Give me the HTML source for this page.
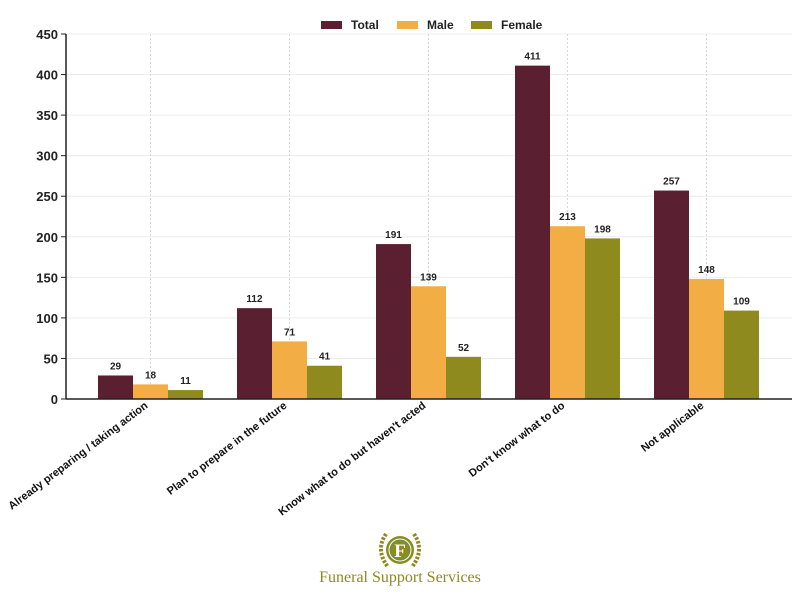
<!DOCTYPE html>
<html><head><meta charset="utf-8"><style>
body{margin:0;background:#fff}
svg{display:block;font-family:"Liberation Sans",sans-serif}
</style></head><body>
<svg width="800" height="595" xmlns="http://www.w3.org/2000/svg">
<g id="grid"></g>
<g id="bars"></g>
<g font-size="12" font-weight="bold" fill="#222">
<rect x="321" y="21" width="21" height="8" fill="#5a1f31"/><text x="351" y="29">Total</text>
<rect x="397" y="21" width="21" height="8" fill="#f2ae45"/><text x="427" y="29">Male</text>
<rect x="471" y="21" width="21" height="8" fill="#8e8a1e"/><text x="501" y="29">Female</text>
</g>
<g transform="translate(400,550)">
<path d="M-14,-16 Q-25,0 -12,17 M14,-16 Q25,0 12,17" stroke="#8e8a1e" stroke-width="4" fill="none" stroke-dasharray="2.5 1.5"/>
<circle r="14" fill="#8e8a1e"/><circle r="11.5" fill="#fff"/><circle r="10.5" fill="#4a9a5a"/><circle r="9.5" fill="#8e8a1e"/>
<text y="7" text-anchor="middle" font-family="Liberation Serif,serif" font-size="19" font-weight="bold" fill="#fff">F</text>
</g>
<text x="400" y="582" text-anchor="middle" font-family="Liberation Serif,serif" font-size="16" fill="#8e8a1e">Funeral Support Services</text>
</svg>
<script>
const NS="http://www.w3.org/2000/svg";
function el(p,t,a,txt){const e=document.createElementNS(NS,t);for(const k in a)e.setAttribute(k,a[k]);if(txt!=null)e.textContent=txt;p.appendChild(e);return e;}
const g=document.getElementById('grid'),b=document.getElementById('bars');
const y0=399,s=365/450;
for(let v=0;v<=450;v+=50){const y=y0-v*s;
 if(v>0)el(g,'line',{x1:66,x2:792,y1:y,y2:y,stroke:'#ececec','stroke-width':1});
 el(g,'line',{x1:61,x2:66,y1:y,y2:y,stroke:'#222'});
 el(g,'text',{x:58,y:y+5,'text-anchor':'end','font-size':13,'font-weight':'bold',fill:'#222'},v);}
const cats=["Already preparing / taking action","Plan to prepare in the future","Know what to do but haven't acted","Don't know what to do","Not applicable"];
const data=[[29,18,11],[112,71,41],[191,139,52],[411,213,198],[257,148,109]];
const cols=["#5a1f31","#f2ae45","#8e8a1e"];
cats.forEach((c,i)=>{const cx=150.5+139*i;
 el(g,'line',{x1:cx,x2:cx,y1:34,y2:399,stroke:'#d8d8d8','stroke-dasharray':'2 2'});
 data[i].forEach((v,j)=>{const x=cx-52.5+35*j,h=v*s;
  el(b,'rect',{x:x,y:y0-h,width:35,height:h,fill:cols[j]});
  el(b,'text',{x:x+17.5,y:y0-h-6,'text-anchor':'middle','font-size':10,'font-weight':'bold',fill:'#222'},v);});
 el(b,'text',{x:0,y:0,transform:`translate(${cx-2},${407}) rotate(-37)`,'text-anchor':'end','font-size':11,'font-weight':'bold',fill:'#111'},c);
});
el(b,'line',{x1:66,x2:66,y1:34,y2:399,stroke:'#222','stroke-width':1.5});
el(b,'line',{x1:66,x2:792,y1:399,y2:399,stroke:'#222','stroke-width':1.5});
</script>
</body></html>
